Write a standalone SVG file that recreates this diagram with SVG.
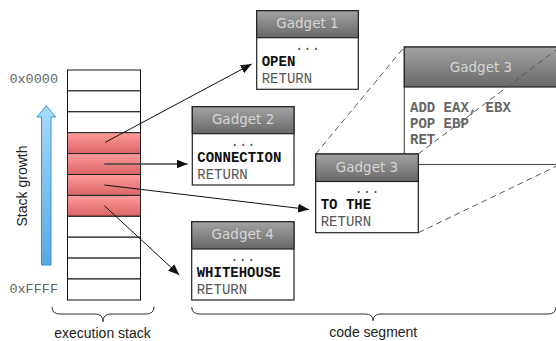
<svg xmlns="http://www.w3.org/2000/svg" width="556" height="341" viewBox="0 0 556 341">
<defs>
<linearGradient id="hdr" x1="0" y1="0" x2="0" y2="1">
<stop offset="0" stop-color="#a3a3a3"/><stop offset="1" stop-color="#686868"/>
</linearGradient>
<linearGradient id="red" x1="0" y1="0" x2="0" y2="1">
<stop offset="0" stop-color="#ff9c9c"/><stop offset="1" stop-color="#d96464"/>
</linearGradient>
<linearGradient id="blue" x1="0" y1="0" x2="0" y2="1">
<stop offset="0" stop-color="#a8dbff"/><stop offset="1" stop-color="#56a8e0"/>
</linearGradient>
<marker id="ah" markerUnits="userSpaceOnUse" markerWidth="12" markerHeight="9" refX="11" refY="4.5" orient="auto">
<path d="M0,0 L11,4.5 L0,9 z" fill="#111"/>
</marker>
</defs>
<style>
.box{fill:#fff;stroke:#222;stroke-width:1.2}
.hd{fill:url(#hdr);stroke:#222;stroke-width:1.2}
.ht{font-family:"DejaVu Sans",Verdana,sans-serif;font-size:13.5px;fill:#d6d6d6;text-anchor:middle}
.mono{font-family:"Liberation Mono","Courier New",monospace;font-size:14px}
.b{font-weight:bold;fill:#111}
.g{fill:#555}
.bg{font-weight:bold;fill:#666}
.cell{fill:#fff;stroke:#111;stroke-width:1}
.rcell{fill:url(#red);stroke:#222;stroke-width:1}
.lbl{font-family:"Liberation Sans",Arial,sans-serif;font-size:14px;fill:#222}
.addr{font-family:"Liberation Mono","Courier New",monospace;font-size:13.5px;fill:#666;text-anchor:end}
.con{stroke:#111;stroke-width:1;fill:none;marker-end:url(#ah)}
.dash{stroke:#555;stroke-width:1;fill:none;stroke-dasharray:6,4}
.brace{stroke:#333;stroke-width:1;fill:none}
</style>

<g id="stack">
<rect class="cell" x="67.5" y="70" width="73" height="20.9"/>
<rect class="cell" x="67.5" y="90.9" width="73" height="20.9"/>
<rect class="cell" x="67.5" y="111.8" width="73" height="20.9"/>
<rect class="rcell" x="67.5" y="132.7" width="73" height="20.9"/>
<rect class="rcell" x="67.5" y="153.6" width="73" height="20.9"/>
<rect class="rcell" x="67.5" y="174.5" width="73" height="20.9"/>
<rect class="rcell" x="67.5" y="195.4" width="73" height="20.9"/>
<rect class="cell" x="67.5" y="216.3" width="73" height="20.9"/>
<rect class="cell" x="67.5" y="237.2" width="73" height="20.9"/>
<rect class="cell" x="67.5" y="258.1" width="73" height="20.9"/>
<rect class="cell" x="67.5" y="279" width="73" height="21"/>
</g>

<g id="addresses">
<text class="addr" x="58" y="83">0x0000</text>
<text class="addr" x="58" y="293.3">0xFFFF</text>
</g>

<g id="growth">
<path d="M41.5,265 L41.5,117 L37,117 L46.3,105.7 L55.6,117 L51,117 L51,265 Z" fill="url(#blue)" stroke="#3096dc" stroke-width="1"/>
<text class="lbl" transform="translate(27,186) rotate(-90)" text-anchor="middle">Stack growth</text>
</g>

<g id="gadget3big">
<rect class="box" x="404.3" y="47" width="156" height="117.5" style="stroke:#555"/>
<rect class="hd" x="404.3" y="47" width="156" height="40"/>
<text class="ht" x="481" y="71.7">Gadget 3</text>
<text class="mono bg" x="410" y="111.7">ADD EAX, EBX</text>
<text class="mono bg" x="410" y="128">POP EBP</text>
<text class="mono bg" x="410" y="144.3">RET</text>
</g>

<g id="zoom-lines">
<line class="dash" x1="315.7" y1="154" x2="404.3" y2="47"/>
<line class="dash" x1="418.3" y1="154" x2="560" y2="47"/>
<line class="dash" x1="418.3" y1="232.7" x2="560" y2="164.5"/>
</g>

<g id="gadget1">
<rect class="box" x="256.7" y="10.7" width="101.6" height="78.6"/>
<rect class="hd" x="256.7" y="10.7" width="101.6" height="27"/>
<text class="ht" x="307.5" y="28.3">Gadget 1</text>
<text class="mono g" x="307.5" y="50" text-anchor="middle">...</text>
<text class="mono b" x="261.7" y="66">OPEN</text>
<text class="mono g" x="261.7" y="82.7">RETURN</text>
</g>

<g id="gadget2">
<rect class="box" x="192.3" y="106.7" width="101.7" height="78.3"/>
<rect class="hd" x="192.3" y="106.7" width="101.7" height="27"/>
<text class="ht" x="243.1" y="124.3">Gadget 2</text>
<text class="mono g" x="243.1" y="146" text-anchor="middle">...</text>
<text class="mono b" x="197.3" y="162">CONNECTION</text>
<text class="mono g" x="197.3" y="178.7">RETURN</text>
</g>

<g id="gadget3">
<rect class="box" x="315.7" y="154" width="102.6" height="78.7"/>
<rect class="hd" x="315.7" y="154" width="102.6" height="27.5"/>
<text class="ht" x="367" y="171.7">Gadget 3</text>
<text class="mono g" x="367" y="193.3" text-anchor="middle">...</text>
<text class="mono b" x="320.7" y="209.3">TO THE</text>
<text class="mono g" x="320.7" y="226">RETURN</text>
</g>

<g id="gadget4">
<rect class="box" x="191.7" y="221.7" width="102.3" height="78.3"/>
<rect class="hd" x="191.7" y="221.7" width="102.3" height="27.3"/>
<text class="ht" x="242.8" y="239.3">Gadget 4</text>
<text class="mono g" x="242.8" y="261" text-anchor="middle">...</text>
<text class="mono b" x="196.7" y="277.3">WHITEHOUSE</text>
<text class="mono g" x="196.7" y="293.7">RETURN</text>
</g>

<g id="connectors">
<line class="con" x1="105.3" y1="142.3" x2="251.7" y2="64"/>
<line class="con" x1="104.3" y1="164" x2="187.5" y2="164" style="stroke:#444;stroke-width:1.5"/>
<line class="con" x1="104.3" y1="185" x2="309" y2="209.5"/>
<line class="con" x1="104.3" y1="205.7" x2="179.3" y2="275"/>
</g>

<g id="braces">
<path class="brace" d="M52,306.7 Q52,314 60,314 L95,314 Q103,314 103,321.7 Q103,314 111,314 L146,314 Q154,314 154,306.7"/>
<path class="brace" d="M191.7,307 Q191.7,314 200,314 L365,314 Q373,314 373,320.7 Q373,314 381,314 L548,314 Q556,314 556,307"/>
<text class="lbl" x="102.5" y="337.7" text-anchor="middle">execution stack</text>
<text class="lbl" x="373.3" y="337.3" text-anchor="middle">code segment</text>
</g>
</svg>
